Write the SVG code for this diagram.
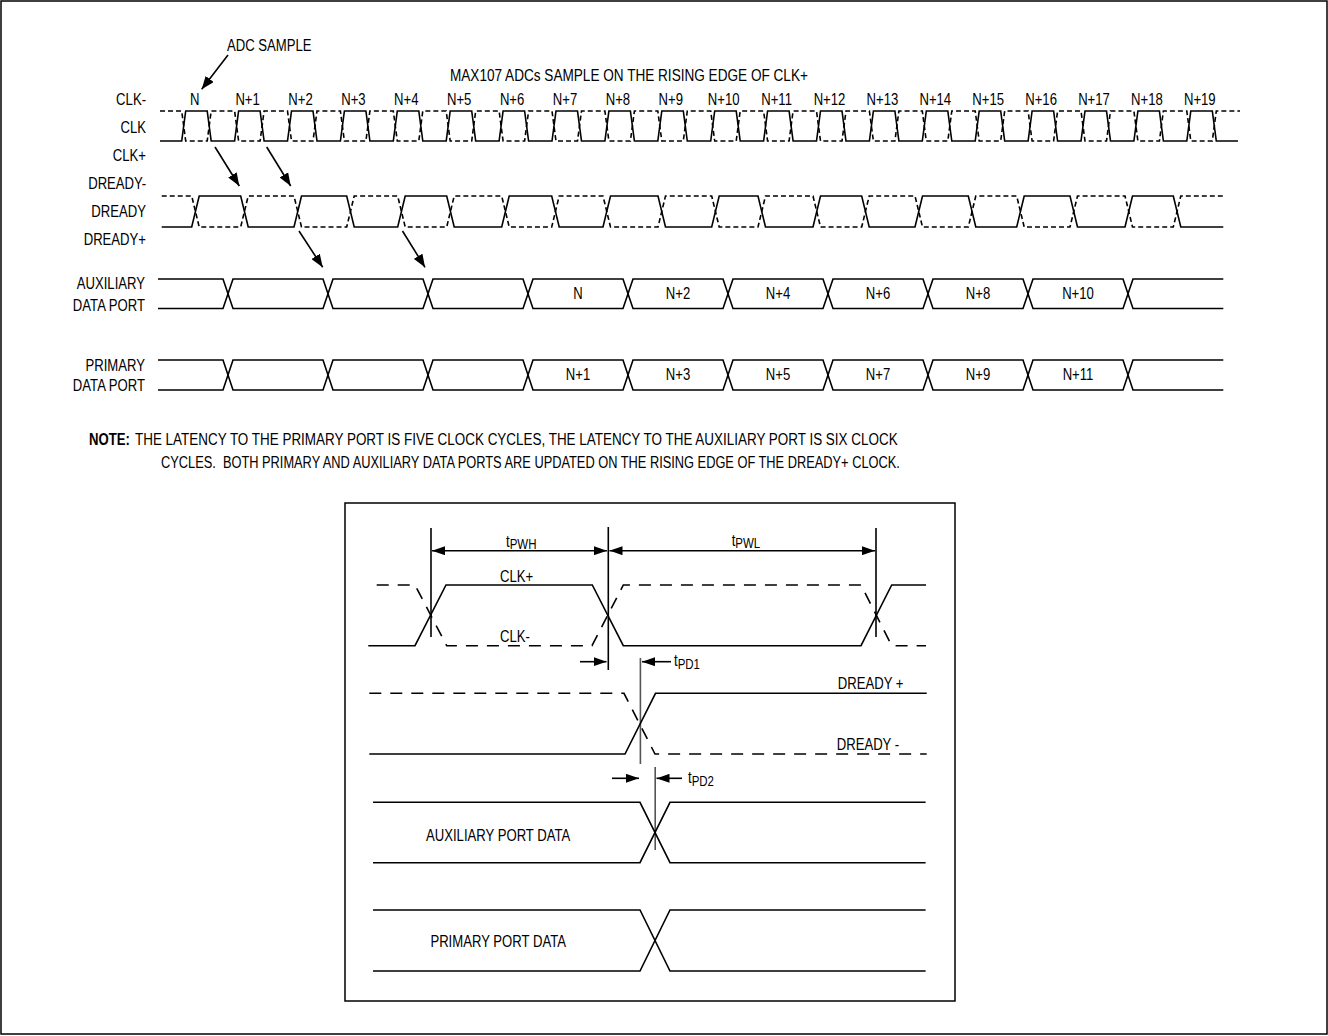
<svg xmlns="http://www.w3.org/2000/svg" width="1328" height="1036" viewBox="0 0 1328 1036">
<defs>
<style>
.t{font-family:"Liberation Sans",Arial,sans-serif;font-size:16px;fill:#000}
.r{text-anchor:end}
.m{text-anchor:middle}
.w{fill:none;stroke:#000;stroke-width:1.6;stroke-linejoin:miter}
.d{stroke-dasharray:5 3}
.bd{stroke-dasharray:12 9}
.a{fill:none;stroke:#000;stroke-width:1.6}
.g{fill:none;stroke:#555;stroke-width:1.6}
</style>
<marker id="ah" markerUnits="userSpaceOnUse" markerWidth="13" markerHeight="10" refX="13" refY="5" orient="auto-start-reverse">
<path d="M0,0 L13,5 L0,10 z" fill="#000"/>
</marker>
<marker id="ahs" markerUnits="userSpaceOnUse" markerWidth="13" markerHeight="9" refX="13" refY="4.5" orient="auto-start-reverse">
<path d="M0,0 L13,4.5 L0,9 z" fill="#000"/>
</marker>
</defs>
<rect x="1" y="1" width="1326" height="1033" fill="#fff" stroke="#000" stroke-width="1.5"/>

<g id="title">
<text class="t" transform="translate(450,81) scale(0.85,1)">MAX107 ADCs SAMPLE ON THE RISING EDGE OF CLK+</text>
<text class="t" transform="translate(227,51) scale(0.82,1)">ADC SAMPLE</text>
</g>

<g id="signal-labels" class="t r">
<text transform="translate(146,105) scale(0.82,1)">CLK-</text>
<text transform="translate(146,133) scale(0.82,1)">CLK</text>
<text transform="translate(146,161) scale(0.82,1)">CLK+</text>
<text transform="translate(146,189) scale(0.82,1)">DREADY-</text>
<text transform="translate(146,217) scale(0.82,1)">DREADY</text>
<text transform="translate(146,245) scale(0.82,1)">DREADY+</text>
<text transform="translate(145,289) scale(0.82,1)">AUXILIARY</text>
<text transform="translate(145,311) scale(0.82,1)">DATA PORT</text>
<text transform="translate(145,371) scale(0.82,1)">PRIMARY</text>
<text transform="translate(145,391) scale(0.82,1)">DATA PORT</text>
</g>

<g id="clk-numbers" class="t m">
<text transform="translate(194.7,105) scale(0.82,1)">N</text>
<text transform="translate(247.6,105) scale(0.82,1)">N+1</text>
<text transform="translate(300.5,105) scale(0.82,1)">N+2</text>
<text transform="translate(353.4,105) scale(0.82,1)">N+3</text>
<text transform="translate(406.3,105) scale(0.82,1)">N+4</text>
<text transform="translate(459.2,105) scale(0.82,1)">N+5</text>
<text transform="translate(512.1,105) scale(0.82,1)">N+6</text>
<text transform="translate(565,105) scale(0.82,1)">N+7</text>
<text transform="translate(617.9,105) scale(0.82,1)">N+8</text>
<text transform="translate(670.8,105) scale(0.82,1)">N+9</text>
<text transform="translate(723.7,105) scale(0.82,1)">N+10</text>
<text transform="translate(776.6,105) scale(0.82,1)">N+11</text>
<text transform="translate(829.5,105) scale(0.82,1)">N+12</text>
<text transform="translate(882.4,105) scale(0.82,1)">N+13</text>
<text transform="translate(935.3,105) scale(0.82,1)">N+14</text>
<text transform="translate(988.2,105) scale(0.82,1)">N+15</text>
<text transform="translate(1041.1,105) scale(0.82,1)">N+16</text>
<text transform="translate(1094,105) scale(0.82,1)">N+17</text>
<text transform="translate(1146.9,105) scale(0.82,1)">N+18</text>
<text transform="translate(1199.8,105) scale(0.82,1)">N+19</text>
</g>

<g id="clk-wave">
<path class="w" d="M160,141 H181.7 l4,-30 h21.5 l4,30 H234.6 l4,-30 h21.5 l4,30 H287.5 l4,-30 h21.5 l4,30 H340.4 l4,-30 h21.5 l4,30 H393.3 l4,-30 h21.5 l4,30 H446.2 l4,-30 h21.5 l4,30 H499.1 l4,-30 h21.5 l4,30 H552 l4,-30 h21.5 l4,30 H604.9 l4,-30 h21.5 l4,30 H657.8 l4,-30 h21.5 l4,30 H710.7 l4,-30 h21.5 l4,30 H763.6 l4,-30 h21.5 l4,30 H816.5 l4,-30 h21.5 l4,30 H869.4 l4,-30 h21.5 l4,30 H922.3 l4,-30 h21.5 l4,30 H975.2 l4,-30 h21.5 l4,30 H1028.1 l4,-30 h21.5 l4,30 H1081 l4,-30 h21.5 l4,30 H1133.9 l4,-30 h21.5 l4,30 H1186.8 l4,-30 h21.5 l4,30 H1238"/>
<path class="w d" d="M160,111 H181.7 l4,30 h21.5 l4,-30 H234.6 l4,30 h21.5 l4,-30 H287.5 l4,30 h21.5 l4,-30 H340.4 l4,30 h21.5 l4,-30 H393.3 l4,30 h21.5 l4,-30 H446.2 l4,30 h21.5 l4,-30 H499.1 l4,30 h21.5 l4,-30 H552 l4,30 h21.5 l4,-30 H604.9 l4,30 h21.5 l4,-30 H657.8 l4,30 h21.5 l4,-30 H710.7 l4,30 h21.5 l4,-30 H763.6 l4,30 h21.5 l4,-30 H816.5 l4,30 h21.5 l4,-30 H869.4 l4,30 h21.5 l4,-30 H922.3 l4,30 h21.5 l4,-30 H975.2 l4,30 h21.5 l4,-30 H1028.1 l4,30 h21.5 l4,-30 H1081 l4,30 h21.5 l4,-30 H1133.9 l4,30 h21.5 l4,-30 H1186.8 l4,30 h21.5 l4,-30 H1240"/>
</g>

<g id="dready-wave">
<path class="w" d="M161.7,227 H191.7 l7.5,-31 H240.7 l7.5,31 H294 l7.5,-31 H346.7 l7.5,31 H397.7 l7.5,-31 H446.7 l7.5,31 H501.7 l7.5,-31 H551.7 l7.5,31 H603 l7.5,-31 H658 l7.5,31 H711.7 l7.5,-31 H758 l7.5,31 H813 l7.5,-31 H861.7 l7.5,31 H915 l7.5,-31 H968.3 l7.5,31 H1016.7 l7.5,-31 H1070 l7.5,31 H1125 l7.5,-31 H1173.3 l7.5,31 H1223.3"/>
<path class="w d" d="M161.7,196 H191.7 l7.5,31 H240.7 l7.5,-31 H294 l7.5,31 H346.7 l7.5,-31 H397.7 l7.5,31 H446.7 l7.5,-31 H501.7 l7.5,31 H551.7 l7.5,-31 H603 l7.5,31 H658 l7.5,-31 H711.7 l7.5,31 H758 l7.5,-31 H813 l7.5,31 H861.7 l7.5,-31 H915 l7.5,31 H968.3 l7.5,-31 H1016.7 l7.5,31 H1070 l7.5,-31 H1125 l7.5,31 H1173.3 l7.5,-31 H1223.3"/>
</g>

<g id="aux-port">
<path class="w" d="M158,279 H223 L233,308.5 H323 L333,279 H423 L433,308.5 H523 L533,279 H623 L633,308.5 H723 L733,279 H823 L833,308.5 H923 L933,279 H1023 L1033,308.5 H1123 L1133,279 H1223.3"/>
<path class="w" d="M158,308.5 H223 L233,279 H323 L333,308.5 H423 L433,279 H523 L533,308.5 H623 L633,279 H723 L733,308.5 H823 L833,279 H923 L933,308.5 H1023 L1033,279 H1123 L1133,308.5 H1223.3"/>
<g class="t m">
<text transform="translate(578,298.5) scale(0.82,1)">N</text>
<text transform="translate(678,298.5) scale(0.82,1)">N+2</text>
<text transform="translate(778,298.5) scale(0.82,1)">N+4</text>
<text transform="translate(878,298.5) scale(0.82,1)">N+6</text>
<text transform="translate(978,298.5) scale(0.82,1)">N+8</text>
<text transform="translate(1078,298.5) scale(0.82,1)">N+10</text>
</g>
</g>

<g id="primary-port">
<path class="w" d="M158,360 H223 L233,390 H323 L333,360 H423 L433,390 H523 L533,360 H623 L633,390 H723 L733,360 H823 L833,390 H923 L933,360 H1023 L1033,390 H1123 L1133,360 H1223.3"/>
<path class="w" d="M158,390 H223 L233,360 H323 L333,390 H423 L433,360 H523 L533,390 H623 L633,360 H723 L733,390 H823 L833,360 H923 L933,390 H1023 L1033,360 H1123 L1133,390 H1223.3"/>
<g class="t m">
<text transform="translate(578,380) scale(0.82,1)">N+1</text>
<text transform="translate(678,380) scale(0.82,1)">N+3</text>
<text transform="translate(778,380) scale(0.82,1)">N+5</text>
<text transform="translate(878,380) scale(0.82,1)">N+7</text>
<text transform="translate(978,380) scale(0.82,1)">N+9</text>
<text transform="translate(1078,380) scale(0.82,1)">N+11</text>
</g>
</g>

<g id="connectors">
<line class="a" x1="228" y1="55" x2="201.7" y2="89.3" marker-end="url(#ah)"/>
<line class="a" x1="215" y1="147" x2="239.3" y2="186" marker-end="url(#ah)"/>
<line class="a" x1="266.7" y1="147" x2="290.7" y2="186" marker-end="url(#ah)"/>
<line class="a" x1="299" y1="231" x2="322.7" y2="267.3" marker-end="url(#ah)"/>
<line class="a" x1="402.5" y1="231" x2="425" y2="267.3" marker-end="url(#ah)"/>
</g>

<g id="note" class="t">
<text transform="translate(89,445) scale(0.82,1)" font-weight="bold">NOTE:</text>
<text transform="translate(135,445) scale(0.82,1)" textLength="930" lengthAdjust="spacingAndGlyphs">THE LATENCY TO THE PRIMARY PORT IS FIVE CLOCK CYCLES, THE LATENCY TO THE AUXILIARY PORT IS SIX CLOCK</text>
<text transform="translate(161,468) scale(0.82,1)" textLength="901" lengthAdjust="spacingAndGlyphs" xml:space="preserve">CYCLES.  BOTH PRIMARY AND AUXILIARY DATA PORTS ARE UPDATED ON THE RISING EDGE OF THE DREADY+ CLOCK.</text>
</g>

<g id="timing-box">
<rect x="345" y="503" width="610" height="498" fill="none" stroke="#000" stroke-width="1.5"/>
<g id="box-refs">
<line class="a" x1="431" y1="528" x2="431" y2="637"/>
<line class="a" x1="608.3" y1="527" x2="608.3" y2="670"/>
<line class="a" x1="876" y1="528" x2="876" y2="637"/>
<line class="g" x1="640.4" y1="658" x2="640.4" y2="764"/>
<line class="g" x1="655.2" y1="767" x2="655.2" y2="850"/>
</g>
<g id="box-dims">
<line class="a" x1="432" y1="550.7" x2="607" y2="550.7" marker-start="url(#ahs)" marker-end="url(#ahs)"/>
<line class="a" x1="609.5" y1="550.7" x2="875" y2="550.7" marker-start="url(#ahs)" marker-end="url(#ahs)"/>
<line class="a" x1="580" y1="661.7" x2="606.5" y2="661.7" marker-end="url(#ahs)"/>
<line class="a" x1="671" y1="661.7" x2="642" y2="661.7" marker-end="url(#ahs)"/>
<line class="a" x1="612" y1="778.3" x2="639" y2="778.3" marker-end="url(#ahs)"/>
<line class="a" x1="682" y1="778.3" x2="656.5" y2="778.3" marker-end="url(#ahs)"/>
<text class="t" transform="translate(506,547) scale(0.82,1)">t<tspan font-size="14" dy="2">PWH</tspan></text>
<text class="t" transform="translate(731.7,546) scale(0.82,1)">t<tspan font-size="14" dy="2">PWL</tspan></text>
<text class="t" transform="translate(674,666) scale(0.82,1)">t<tspan font-size="14" dy="3">PD1</tspan></text>
<text class="t" transform="translate(688,783) scale(0.82,1)">t<tspan font-size="14" dy="3">PD2</tspan></text>
</g>
<g id="box-clk">
<path class="w" d="M368.3,645.7 H415 L446,585 H592.3 L623.3,645.7 H861 L891.7,585 H926"/>
<path class="w bd" d="M376.7,585 H415 L446.7,645.7 H592 L623.3,585 H861 L891.7,645.7 H926"/>
<text class="t" transform="translate(500,581.7) scale(0.82,1)">CLK+</text>
<text class="t" transform="translate(500,641.7) scale(0.82,1)">CLK-</text>
</g>
<g id="box-dready">
<path class="w bd" d="M369.3,693.3 H624 L655,754 H926.7"/>
<path class="w" d="M369.3,754 H625 L655.5,693.3 H926.7"/>
<text class="t" transform="translate(837.8,689.3) scale(0.82,1)">DREADY +</text>
<text class="t" transform="translate(836.7,750) scale(0.82,1)">DREADY -</text>
</g>
<g id="box-aux">
<path class="w" d="M373,802.3 H640 L670,862.7 H925.6"/>
<path class="w" d="M373,862.7 H640 L670,802.3 H925.6"/>
<text class="t" transform="translate(426,840.7) scale(0.82,1)">AUXILIARY PORT DATA</text>
</g>
<g id="box-primary">
<path class="w" d="M373,910 H640 L670,971 H925.6"/>
<path class="w" d="M373,971 H640 L670,910 H925.6"/>
<text class="t" transform="translate(430.4,947.3) scale(0.82,1)">PRIMARY PORT DATA</text>
</g>
</g>
</svg>
